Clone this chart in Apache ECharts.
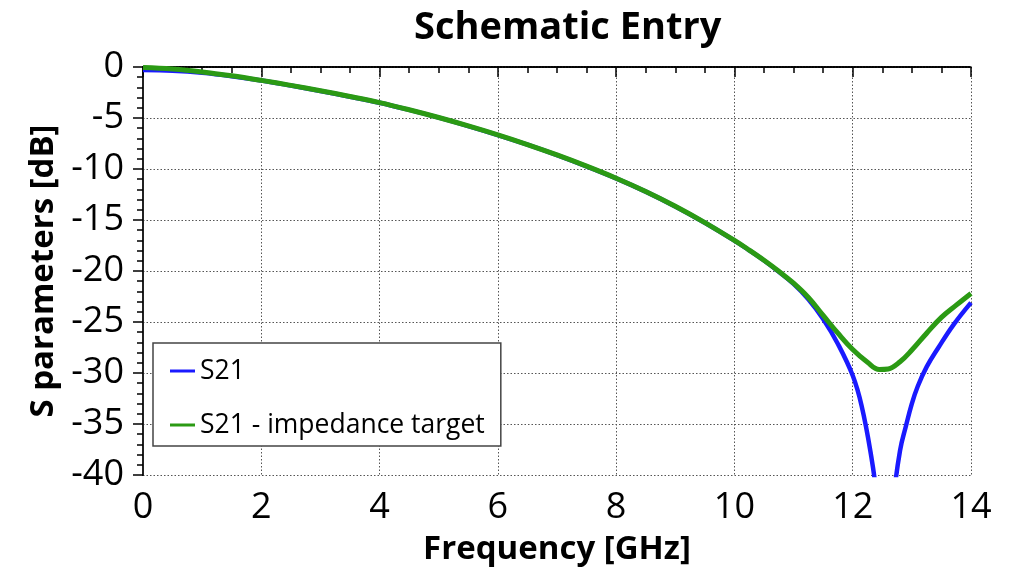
<!DOCTYPE html>
<html>
<head>
<meta charset="utf-8">
<script src="https://cdn.jsdelivr.net/npm/echarts@6/dist/echarts.min.js"></script>
<style>html,body{margin:0;padding:0;background:#fff}#c{width:1015px;height:572px}</style>
</head>
<body>
<div id="c"></div>
<script>
const chartTitle = 'Schematic Entry';
const xName = 'Frequency [GHz]';
const yName = 'S parameters [dB]';
const seriesNames = ['S21', 'S21 - impedance target'];

const s21Freq = [0, 0.5, 1, 1.5, 2, 2.5, 3, 3.5, 4, 4.5, 5, 5.5, 6, 6.5, 7, 7.5, 8, 8.5, 9, 9.5, 10, 10.25, 10.5, 10.75, 11, 11.25, 11.5, 11.75, 12, 12.15, 12.3, 12.4, 12.5, 12.55, 12.6, 12.7, 12.8, 12.9, 13, 13.1, 13.25, 13.45, 13.7, 14];
const s21Db   = [-0.3, -0.37, -0.57, -0.9, -1.32, -1.82, -2.35, -2.91, -3.51, -4.21, -4.97, -5.79, -6.67, -7.62, -8.64, -9.74, -10.92, -12.22, -13.67, -15.27, -17.02, -17.97, -18.97, -20.07, -21.27, -22.77, -24.7, -27.15, -30.25, -33.2, -37.7, -42, -52, -70, -52, -42, -37.6, -35.2, -33.0, -31.3, -29.4, -27.5, -25.3, -23.1];

const targetFreq = [0, 0.5, 1, 1.5, 2, 2.5, 3, 3.5, 4, 4.5, 5, 5.5, 6, 6.5, 7, 7.5, 8, 8.5, 9, 9.5, 10, 10.25, 10.5, 10.75, 11, 11.25, 11.5, 11.75, 12, 12.25, 12.45, 12.6, 12.8, 13, 13.25, 13.5, 13.75, 14];
const targetDb   = [-0.05, -0.2, -0.48, -0.86, -1.31, -1.8, -2.33, -2.89, -3.49, -4.19, -4.95, -5.77, -6.65, -7.6, -8.62, -9.72, -10.9, -12.2, -13.65, -15.25, -17.0, -17.95, -18.95, -20.03, -21.2, -22.6, -24.35, -26.1, -27.7, -28.95, -29.65, -29.6, -28.9, -27.75, -26.1, -24.55, -23.35, -22.2];

const xTicks = {min: 0, max: 14, interval: 2};
const yTicks = {min: -40, max: 0, interval: 5};

const pair = (xs, ys) => xs.map((x, i) => [x, ys[i]]);
const FONT = '"Open Sans", "Noto Sans", sans-serif';
const frameDot = {color: '#000', width: 1.5, type: [1.5, 1.5]};

const chart = echarts.init(document.getElementById('c'), null, {renderer: 'canvas'});
chart.setOption({
  animation: false,
  backgroundColor: '#fff',
  title: {
    text: chartTitle, left: 409, top: 4,
    textStyle: {fontFamily: FONT, fontWeight: 'bold', fontSize: 38, color: '#000'}
  },
  grid: {left: 143, right: 44, top: 67, bottom: 97, containLabel: false},
  legend: {
    orient: 'vertical', left: 153, top: 343,
    data: seriesNames,
    icon: 'rect', itemWidth: 25, itemHeight: 3, itemGap: 22,
    padding: [12, 16, 5, 17],
    borderColor: '#444', borderWidth: 1.5, backgroundColor: '#fff',
    textStyle: {fontFamily: FONT, fontSize: 26.5, color: '#000', lineHeight: 32}
  },
  xAxis: [
    {
      type: 'value', position: 'bottom', offset: 4,
      min: xTicks.min, max: xTicks.max, interval: xTicks.interval,
      name: xName, nameLocation: 'middle', nameGap: 54,
      nameTextStyle: {fontFamily: FONT, fontWeight: 'bold', fontSize: 33, color: '#000'},
      axisLine: {show: true, lineStyle: {color: '#000', width: 1.5}},
      axisTick: {show: true, length: 10, lineStyle: {color: '#000', width: 1.5}},
      minorTick: {show: true, splitNumber: 4, length: 6, lineStyle: {color: '#000', width: 1.5}},
      axisLabel: {fontFamily: FONT, fontSize: 36, color: '#000', margin: 11},
      splitLine: {show: true, lineStyle: {color: '#555', width: 1, type: [1.5, 2]}}
    },
    {
      type: 'value', position: 'bottom', offset: 0, gridIndex: 0,
      min: xTicks.min, max: xTicks.max,
      axisLine: {show: true, lineStyle: frameDot},
      axisTick: {show: false}, axisLabel: {show: false}, splitLine: {show: false}
    },
    {
      type: 'value', position: 'top', offset: 0, gridIndex: 0,
      min: xTicks.min, max: xTicks.max,
      axisLine: {show: true, lineStyle: frameDot},
      axisTick: {show: false}, axisLabel: {show: false}, splitLine: {show: false}
    }
  ],
  yAxis: [
    {
      type: 'value', position: 'left', offset: 4,
      min: yTicks.min, max: yTicks.max, interval: yTicks.interval,
      name: yName, nameLocation: 'middle', nameGap: 77,
      nameTextStyle: {fontFamily: FONT, fontWeight: 'bold', fontSize: 33, color: '#000'},
      axisLine: {show: true, lineStyle: {color: '#000', width: 1.5}},
      axisTick: {show: true, length: 10, lineStyle: {color: '#000', width: 1.5}},
      minorTick: {show: true, splitNumber: 5, length: 6, lineStyle: {color: '#000', width: 1.5}},
      axisLabel: {fontFamily: FONT, fontSize: 36, color: '#000', margin: 15},
      splitLine: {show: true, lineStyle: {color: '#555', width: 1, type: [1.5, 2]}}
    },
    {
      type: 'value', position: 'left', offset: 0, gridIndex: 0,
      min: yTicks.min, max: yTicks.max,
      axisLine: {show: true, lineStyle: frameDot},
      axisTick: {show: false}, axisLabel: {show: false}, splitLine: {show: false}
    },
    {
      type: 'value', position: 'right', offset: 0, gridIndex: 0,
      min: yTicks.min, max: yTicks.max,
      axisLine: {show: true, lineStyle: {color: '#222', width: 2}},
      axisTick: {show: false}, axisLabel: {show: false}, splitLine: {show: false}
    }
  ],
  series: [
    {
      name: seriesNames[0], type: 'line', xAxisIndex: 0, yAxisIndex: 0,
      data: pair(s21Freq, s21Db), smooth: 0.4, showSymbol: false, clip: true,
      lineStyle: {color: '#1a1aff', width: 4.5}, itemStyle: {color: '#1a1aff'}, z: 3
    },
    {
      name: seriesNames[1], type: 'line', xAxisIndex: 0, yAxisIndex: 0,
      data: pair(targetFreq, targetDb), smooth: 0.4, showSymbol: false, clip: true,
      lineStyle: {color: '#2b9a14', width: 5}, itemStyle: {color: '#2b9a14'}, z: 4
    }
  ]
});
</script>
</body>
</html>
